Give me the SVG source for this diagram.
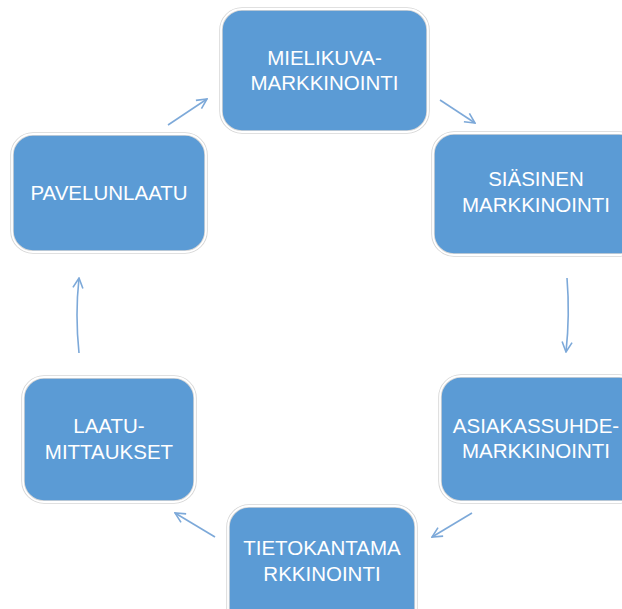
<svg xmlns="http://www.w3.org/2000/svg" width="622" height="609" viewBox="0 0 622 609">
<defs>
<style>
.box{fill:#5B9BD5;stroke:#d6d6d6;stroke-width:3.5}
.rim{fill:none;stroke:#ffffff;stroke-width:1.8}
.lbl{font-family:"Liberation Sans",Arial,sans-serif;font-size:20.5px;fill:#ffffff;text-anchor:middle}
.arr{fill:none;stroke:#7DA9D9;stroke-width:1.6;marker-end:url(#ah)}
</style>
<marker id="ah" viewBox="0 0 12 12" refX="11" refY="6" markerWidth="12" markerHeight="12" markerUnits="userSpaceOnUse" orient="auto">
<path d="M1,1 L11,6 L1,11" fill="none" stroke="#7DA9D9" stroke-width="1.6"/>
</marker>
</defs>
<rect width="622" height="609" fill="#ffffff"/>
<g id="connectors">
<path class="arr" d="M168,125 L207,99"/>
<path class="arr" d="M440,100 L475,123"/>
<path class="arr" d="M567,278 Q570,315 566,352"/>
<path class="arr" d="M472,513 L432,537"/>
<path class="arr" d="M215,537 L175,513"/>
<path class="arr" d="M79,353 Q75,315 79,278"/>
</g>
<g id="mielikuva">
<rect class="box" x="221" y="9" width="207" height="123" rx="21"/>
<rect class="rim" x="221" y="9" width="207" height="123" rx="21"/>
<text class="lbl" x="324.5" y="65">MIELIKUVA-</text>
<text class="lbl" x="324.5" y="90">MARKKINOINTI</text>
</g>
<g id="sisainen">
<rect class="box" x="433" y="133" width="207" height="122" rx="21"/>
<rect class="rim" x="433" y="133" width="207" height="122" rx="21"/>
<text class="lbl" x="536" y="186">SIÄSINEN</text>
<text class="lbl" x="536" y="212">MARKKINOINTI</text>
</g>
<g id="asiakassuhde">
<rect class="box" x="440" y="376" width="200" height="126" rx="21"/>
<rect class="rim" x="440" y="376" width="200" height="126" rx="21"/>
<text class="lbl" x="536" y="433">ASIAKASSUHDE-</text>
<text class="lbl" x="536" y="458">MARKKINOINTI</text>
</g>
<g id="tietokanta">
<rect class="box" x="228" y="506" width="188" height="125" rx="21"/>
<rect class="rim" x="228" y="506" width="188" height="125" rx="21"/>
<text class="lbl" x="322" y="555">TIETOKANTAMA</text>
<text class="lbl" x="322" y="581">RKKINOINTI</text>
</g>
<g id="laatumittaukset">
<rect class="box" x="23" y="377" width="172" height="125" rx="21"/>
<rect class="rim" x="23" y="377" width="172" height="125" rx="21"/>
<text class="lbl" x="109" y="433">LAATU-</text>
<text class="lbl" x="109" y="459">MITTAUKSET</text>
</g>
<g id="palvelunlaatu">
<rect class="box" x="12" y="134" width="194" height="118" rx="21"/>
<rect class="rim" x="12" y="134" width="194" height="118" rx="21"/>
<text class="lbl" x="109" y="200">PAVELUNLAATU</text>
</g>
</svg>
